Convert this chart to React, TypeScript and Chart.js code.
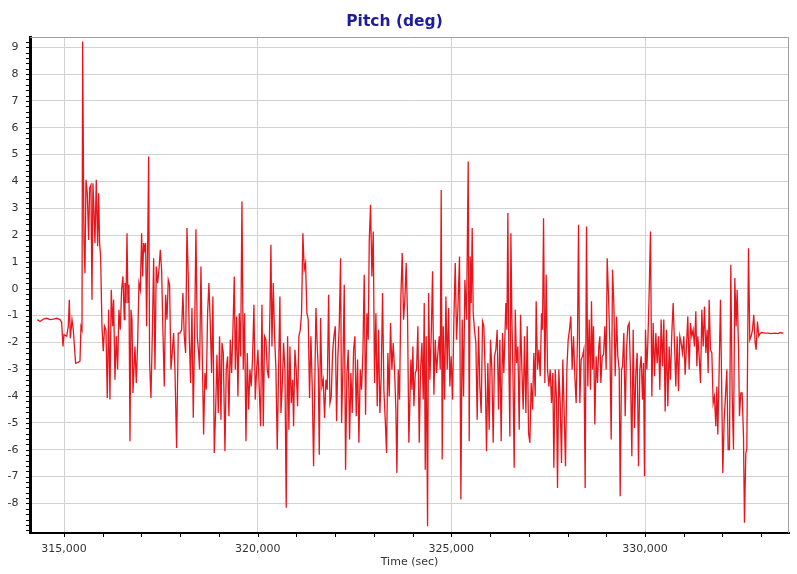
import { useEffect, useRef } from 'react';
import { Chart, registerables } from 'chart.js';

Chart.register(...registerables);

const chartTitle = 'Pitch (deg)';
const xAxisTitle = 'Time (sec)';

const timeSec = [
  314311, 314380, 314466, 314552, 314638, 314724, 314810, 314896, 314939, 314973, 314999, 315068, 315111, 315137, 315163, 315206, 315240, 315274, 315300, 315360,
  315412, 315438, 315464, 315481, 315515, 315541, 315567, 315601, 315636, 315661, 315696, 315722, 315747, 315773, 315799, 315833, 315868, 315894, 315919, 315945,
  315980, 316014, 316048, 316083, 316117, 316152, 316186, 316220, 316255, 316281, 316315, 316349, 316384, 316418, 316453, 316487, 316521, 316556,
  316574, 316600, 316626, 316651, 316677, 316703, 316729, 316755, 316780, 316806, 316832, 316866, 316901, 316935, 316970, 317004, 317030, 317056, 317081, 317107,
  317133, 317159, 317185, 317210, 317245, 317279, 317314, 317348, 317382, 317417, 317451, 317486, 317520, 317554, 317589, 317623, 317658, 317692, 317726, 317761,
  317795, 317830, 317864, 317907, 317950, 317993, 318036, 318070, 318105, 318139, 318174, 318208, 318234, 318268, 318303, 318337, 318371, 318406, 318440, 318475,
  318500, 318535, 318569, 318604, 318638, 318672, 318707, 318741, 318776, 318810, 318844, 318879, 318913, 318948, 318982, 319016,
  319052, 319078, 319112, 319155, 319189, 319224, 319258, 319293, 319327, 319361, 319396, 319422, 319456, 319490, 319525, 319559, 319594, 319628, 319662, 319697,
  319731, 319766, 319800, 319834, 319869, 319903, 319938, 319972, 320006, 320041, 320075, 320110, 320144, 320178, 320213, 320247, 320282, 320316, 320342, 320368,
  320402, 320436, 320471, 320505, 320540, 320574, 320600, 320634, 320669, 320703, 320737, 320772, 320806, 320832, 320866, 320901, 320927, 320961, 320995, 321030,
  321064, 321099, 321133, 321167, 321202, 321236, 321271, 321305, 321339, 321374, 321408, 321443,
  321504, 321538, 321564, 321590, 321624, 321659, 321693, 321727, 321762, 321796, 321831, 321865, 321899, 321934, 321968, 322003, 322037, 322071, 322106, 322140,
  322166, 322200, 322235, 322269, 322304, 322338, 322372, 322407, 322441, 322476, 322510, 322544, 322579, 322613, 322648, 322682, 322716, 322751, 322785, 322820,
  322854, 322880, 322914, 322949, 322983, 323017, 323052, 323086, 323121, 323155, 323189, 323224, 323258, 323293, 323327, 323361, 323396, 323430, 323465, 323499,
  323533, 323568, 323594, 323628, 323662, 323697, 323731, 323766, 323800, 323834, 323869, 323903,
  323956, 323982, 324007, 324033, 324068, 324102, 324136, 324171, 324205, 324240, 324274, 324300, 324326, 324351, 324386, 324412, 324446, 324480, 324515, 324549,
  324584, 324618, 324652, 324687, 324713, 324738, 324764, 324790, 324824, 324859, 324893, 324928, 324962, 324996, 325031, 325065, 325100, 325134, 325168, 325211,
  325246, 325280, 325315, 325349, 325392, 325435, 325461, 325487, 325512, 325538, 325564, 325598, 325633, 325667, 325702, 325736, 325770, 325805, 325839, 325874,
  325908, 325942, 325977, 326011, 326046, 326080, 326114, 326149, 326183, 326218, 326252, 326286, 326321, 326355,
  326408, 326434, 326459, 326485, 326511, 326537, 326563, 326588, 326623, 326649, 326683, 326717, 326752, 326786, 326821, 326855, 326889, 326924, 326958, 326993,
  327027, 327061, 327096, 327130, 327165, 327190, 327225, 327259, 327294, 327328, 327354, 327380, 327414, 327448, 327483, 327517, 327552, 327586, 327620, 327646,
  327681, 327715, 327741, 327775, 327810, 327844, 327878, 327913, 327947, 327982, 328016, 328050, 328085, 328119, 328154, 328188, 328222, 328257, 328283, 328317,
  328351, 328386, 328420, 328455, 328489, 328523, 328558, 328592, 328618, 328644, 328670, 328704, 328738, 328773, 328807,
  328834, 328860, 328894, 328929, 328963, 328997, 329023, 329058, 329092, 329126, 329161, 329195, 329230, 329264, 329298, 329333, 329359, 329393, 329419, 329453,
  329488, 329522, 329556, 329591, 329625, 329660, 329694, 329728, 329763, 329797, 329832, 329866, 329900, 329935, 329961, 329986, 330012, 330047, 330072, 330107,
  330141, 330176, 330210, 330244, 330279, 330313, 330348, 330382, 330416, 330451, 330485, 330520, 330554, 330588, 330623, 330657, 330692, 330726, 330760, 330795,
  330829, 330864, 330898, 330932, 330967, 331001, 331036, 331070, 331104, 331139, 331173, 331208, 331242, 331276,
  331312, 331338, 331363, 331398, 331432, 331467, 331501, 331535, 331570, 331604, 331630, 331656, 331690, 331725, 331759, 331793, 331828, 331854, 331879, 331914,
  331948, 331974, 332008, 332043, 332077, 332112, 332146, 332180, 332215, 332249, 332284, 332318, 332352, 332378, 332413, 332438, 332473, 332507, 332542, 332567,
  332602, 332628, 332671, 332705, 332739, 332774, 332808, 332843, 332868, 332903, 332937, 332972, 333006, 333092, 333178, 333264, 333350, 333436, 333488, 333539,
  333574,
];

const pitchDeg = [
  -1.15, -1.22, -1.13, -1.10, -1.15, -1.13, -1.10, -1.15, -1.25, -2.15, -1.71, -1.77, -1.40, -0.41, -1.84, -1.15, -1.53, -2.27, -2.77, -2.74,
  -2.70, -1.40, -1.53, 9.21, 1.76, 0.58, 4.06, 3.56, 1.82, 3.75, 3.87, -0.41, 3.93, 2.94, 1.70, 4.06, 1.58, 3.56, 1.70, 1.20,
  -1.40, -2.33, -1.40, -1.53, -4.07, -0.78, -4.13, -0.04, -1.40, -0.41, -3.39, -1.77, -3.01, -0.78, -1.53, -0.04, 0.46, -1.15,
  0.21, -0.53, 2.07, -0.53, 0.15, -5.68, -0.78, -1.15, -3.88, -3.01, -2.15, -3.51, -2.02, 0.21, -0.04, 2.07, 0.46, 1.70, 1.45, 1.70,
  -1.40, 1.45, 4.93, -2.77, -4.07, -1.77, 1.14, -3.01, 0.83, 0.21, 0.71, 1.45, 0.71, -1.59, -3.64, -0.22, -1.15, 0.33, 0.15, -3.01,
  -2.39, -1.65, -3.01, -5.93, -1.65, -1.65, -1.53, -0.16, -1.77, -2.39, 2.26, 0.46, -1.77, -3.51, -0.72, -4.81, -1.77, 2.22, -1.77, -2.39,
  -3.01, 0.83, -2.39, -5.43, -3.14, -3.76, -0.91, 0.21, -1.28, -3.14, -0.29, -6.12, -4.63, -2.46, -4.63, -1.77,
  -4.88, -2.02, -2.39, -6.05, -3.01, -2.52, -4.75, -1.90, -3.14, -1.53, 0.46, -3.01, -1.03, -4.01, -0.91, -2.52, 3.25, -3.01, -0.91, -5.68,
  -2.39, -4.50, -3.01, -3.64, -2.52, -0.60, -4.13, -3.01, -2.27, -3.76, -5.12, -0.60, -5.12, -1.77, -1.90, -3.01, -3.33, -0.91, 1.64, -2.15,
  0.21, -1.77, -3.01, -5.99, -3.01, -0.29, -4.63, -3.64, -2.02, -3.01, -8.16, -1.77, -5.25, -2.15, -4.26, -3.39, -5.12, -2.27, -3.01, -4.38,
  -1.77, -1.53, -0.91, 2.07, 0.71, 0.96, -0.91, -1.15, -4.07, -1.77, -3.64, -6.61,
  -0.72, -2.15, -3.01, -6.18, -1.09, -3.64, -3.39, -4.81, -3.39, -3.76, -0.22, -4.26, -4.01, -2.39, -1.77, -1.40, -4.94, -2.52, -1.40, 1.14,
  -5.00, -3.01, 0.15, -6.74, -3.14, -2.27, -5.62, -3.14, -4.63, -2.27, -1.77, -4.75, -2.64, -5.74, -3.01, -3.76, -2.39, 0.52, -4.69, -0.91,
  -1.90, 1.76, 3.13, 0.46, 2.13, -3.51, -0.91, -4.38, -1.53, -4.63, -3.26, -0.16, -3.76, -4.88, -6.12, -2.39, -4.01, -1.28, -3.01, -2.02,
  -3.01, -4.50, -6.86, -3.01, -4.13, -0.29, 1.33, -1.15, -0.41, 0.96, -1.03, -5.74,
  -2.64, -3.76, -2.15, -4.38, -3.14, -3.01, -1.40, -5.74, -3.01, -2.02, -4.13, -0.53, -6.74, -1.77, -8.85, -0.16, -3.39, -1.77, 0.65, -3.95,
  -1.90, -3.14, -2.39, -1.77, -3.01, 3.68, -6.36, -1.40, -4.13, -0.29, -3.01, -0.72, -3.64, -2.52, -4.13, -1.15, 0.96, -1.90, -0.78, 1.20,
  -7.85, -1.15, -4.01, 0.33, -1.15, 4.74, -5.68, 1.20, -0.53, 2.26, -0.91, -1.53, -2.02, -4.88, -1.40, -3.64, -4.63, -1.22, -1.40, -3.14,
  -6.05, -2.77, -5.25, -1.90, -3.01, -5.74, -2.52, -2.27, -1.53, -4.50, -1.90, -5.68, -1.65, -3.14,
  -0.53, -1.53, 2.82, -2.77, -5.50, 2.07, -1.15, -3.01, -6.67, -0.78, -2.77, -2.15, -5.25, -0.97, -3.01, -4.50, -1.77, -4.63, -1.40, -5.37,
  -5.74, -3.51, -4.50, -2.39, -4.01, -0.47, -3.01, -2.27, -3.26, -0.91, -1.53, 2.63, -3.51, 0.52, -3.01, -3.64, -3.01, -4.26, -3.14, -6.67,
  -3.01, -4.13, -7.42, -3.01, -4.26, -6.49, -2.64, -4.63, -6.61, -3.01, -1.90, -1.53, -1.03, -3.01, -1.77, -3.26, -4.26, -1.77, 2.38, -4.26,
  -2.64, -2.52, -2.27, -7.42, 2.32, -3.64, -1.15, -3.76, -0.47, -3.01, -1.40, -5.06, -2.52, -3.51, -2.15,
  -1.77, -3.51, -2.52, -2.46, -1.40, -3.01, 1.14, -0.29, -2.02, -5.62, 0.71, -0.53, -3.26, -1.03, -2.52, -3.01, -7.73, -3.01, -2.89, -1.65,
  -4.75, -2.27, -1.40, -1.28, -3.14, -6.24, -1.53, -5.19, -3.14, -2.39, -6.61, -3.01, -2.52, -4.13, -2.77, -6.99, -1.53, -3.01, -2.02, -0.16,
  2.13, -4.01, -1.28, -3.26, -1.65, -2.77, -1.77, -3.76, -1.15, -2.89, -1.15, -4.57, -1.53, -4.38, -2.15, -3.39, -1.65, -0.53, -2.02, -3.64,
  -1.77, -3.82, -1.77, -2.02, -2.39, -1.77, -3.20, -2.15, -1.03, -3.01, -1.28, -1.77, -1.53, -2.15,
  -0.84, -2.89, -1.77, -2.52, -3.51, -0.78, -2.15, -0.66, -2.39, -1.53, -3.14, -0.41, -2.27, -2.39, -4.26, -4.01, -5.12, -3.64, -5.43, -3.01,
  -0.41, -3.14, -6.86, -4.88, -4.01, -3.01, -5.99, -5.99, 0.89, -3.88, -5.99, 0.40, -1.40, -0.04, -2.15, -4.75, -3.88, -3.88, -5.50, -8.72,
  -6.12, -5.99, 1.51, -1.90, -1.77, -1.53, -0.97, -2.02, -2.27, -1.22, -1.77, -1.67, -1.63, -1.65, -1.65, -1.67, -1.65, -1.67, -1.63, -1.65,
  -1.65,
];

const xTickValues = [315000, 320000, 325000, 330000];
const yTickValues = [-8, -7, -6, -5, -4, -3, -2, -1, 0, 1, 2, 3, 4, 5, 6, 7, 8, 9];
const xMin = 314122;
const xMax = 333717;
const yMin = -9.1;
const yMax = 9.38;
const xMinorStep = 1000;
const yMinorStep = 0.2;

const FONT = "'DejaVu Sans', Verdana, sans-serif";

const framePlugin = {
  id: 'frame',
  afterDraw(chart: any) {
    const { ctx, chartArea, scales } = chart;
    const { left, right, top, bottom } = chartArea;
    ctx.save();
    ctx.strokeStyle = '#9c9c9c';
    ctx.lineWidth = 1;
    ctx.beginPath();
    ctx.moveTo(left, top + 0.5);
    ctx.lineTo(right - 0.5, top + 0.5);
    ctx.lineTo(right - 0.5, bottom);
    ctx.stroke();
    ctx.strokeStyle = '#000';
    ctx.beginPath();
    const x = scales.x;
    const y = scales.y;
    for (let v = Math.ceil(xMin / xMinorStep) * xMinorStep; v <= xMax; v += xMinorStep) {
      const px = Math.round(x.getPixelForValue(v)) + 0.5;
      ctx.moveTo(px, bottom);
      ctx.lineTo(px, bottom + 4);
    }
    const n = Math.round((yMax - yMin) / yMinorStep);
    for (let i = 0; i <= n; i++) {
      const v = Math.ceil(yMin / yMinorStep) * yMinorStep + i * yMinorStep;
      if (v > yMax) break;
      const py = Math.round(y.getPixelForValue(v)) + 0.5;
      ctx.moveTo(left - 4, py);
      ctx.lineTo(left, py);
    }
    ctx.stroke();
    ctx.restore();
  },
};

export default function App() {
  const ref = useRef<HTMLCanvasElement | null>(null);

  useEffect(() => {
    if (!ref.current) return;
    const data = timeSec.map((t, i) => ({ x: t, y: pitchDeg[i] }));
    const chart = new Chart(ref.current, {
      type: 'line',
      data: {
        datasets: [
          {
            label: 'Pitch',
            data,
            borderColor: '#e8161c',
            borderWidth: 1.3,
            pointRadius: 0,
            tension: 0,
            fill: false,
          },
        ],
      },
      options: {
        animation: false,
        responsive: true,
        maintainAspectRatio: false,
        layout: { padding: { left: 0, right: 8, top: 0, bottom: 0 } },
        plugins: {
          legend: { display: false },
          tooltip: { enabled: false },
          title: {
            display: true,
            text: chartTitle,
            color: '#1c1c9e',
            font: { family: FONT, size: 15.5, weight: 'bold' },
            padding: { top: 12.5, bottom: 5.9 },
          },
        },
        scales: {
          x: {
            type: 'linear',
            min: xMin,
            max: xMax,
            afterBuildTicks: (axis: any) => {
              axis.ticks = xTickValues.map((v) => ({ value: v }));
            },
            afterFit: (scale: any) => {
              scale.height = 41;
            },
            ticks: {
              color: '#333',
              font: { family: FONT, size: 11 },
              padding: 9.5,
              maxRotation: 0,
              callback: (v: any) => Number(v).toLocaleString('en-US'),
            },
            grid: { color: '#d2d2d2', lineWidth: 1, drawTicks: false },
            border: { display: true, color: '#000', width: 2 },
            title: {
              display: true,
              text: xAxisTitle,
              color: '#333',
              font: { family: FONT, size: 11 },
              padding: { top: 0, bottom: 5 },
            },
          },
          y: {
            type: 'linear',
            min: yMin,
            max: yMax,
            afterBuildTicks: (axis: any) => {
              axis.ticks = yTickValues.map((v) => ({ value: v }));
            },
            afterFit: (scale: any) => {
              scale.width = 30;
            },
            ticks: {
              color: '#333',
              font: { family: FONT, size: 11 },
              padding: 11.5,
            },
            grid: { color: '#d2d2d2', lineWidth: 1, drawTicks: false },
            border: { display: true, color: '#000', width: 3 },
          },
        },
      },
      plugins: [framePlugin],
    });
    return () => chart.destroy();
  }, []);

  return (
    <div style={{ position: 'fixed', left: 0, top: 0, width: 797, height: 574, background: '#fff' }}>
      <canvas ref={ref} />
    </div>
  );
}
